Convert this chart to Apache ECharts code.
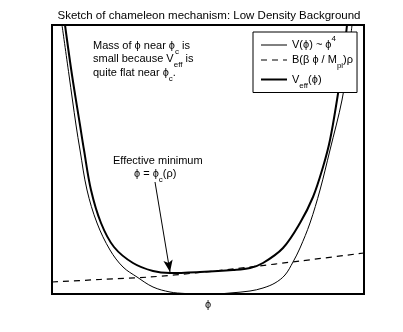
<!DOCTYPE html>
<html>
<head>
<meta charset="utf-8">
<script src="https://cdn.jsdelivr.net/npm/echarts@6/dist/echarts.min.js"></script>
<style>
  html, body { margin: 0; padding: 0; background: #fff; }
  #plot { width: 403px; height: 332px; }
</style>
</head>
<body>
<div id="plot"></div>
<script>
// Sketch values (arbitrary units)

// V(phi) ~ phi^4
const vPhi = [10, 17, 24, 28, 35, 45, 58, 71, 85, 101, 118, 133, 148, 163, 178, 198, 211, 223, 233, 241, 248, 258, 268, 278, 290, 296, 300];
const vVal = [269, 219, 169, 144, 104, 71, 44, 27, 17, 7, 2, 0.5, 0, 0, 1, 3, 6, 11, 19, 32, 46, 71, 104, 144, 194, 234, 269];

// B(beta phi / Mpl) rho
const bPhi = [0, 48, 98, 148, 198, 248, 312];
const bVal = [12, 14.5, 17, 21.5, 27, 33, 41];

// V_eff(phi)
const effPhi = [13, 20, 28, 32, 39, 49, 62, 81, 101, 118, 148, 181, 198, 211, 231, 248, 261, 271, 278, 285, 291, 295];
const effVal = [269, 219, 169, 144, 104, 71, 47, 31, 23, 21, 22, 24, 26, 31, 46, 71, 97, 127, 154, 194, 234, 269];

// arrow from label to the effective minimum
const arrowFrom = [103, 112];
const arrowTo = [118, 22];

const zip = (xs, ys) => xs.map((x, i) => [x, ys[i]]);

const FONT = "Liberation Sans, Arial, sans-serif";
const rich = {
    n: { fontSize: 11, fontFamily: FONT, color: "#000", lineHeight: 20 },
    sub: { fontSize: 8, fontFamily: FONT, color: "#000", lineHeight: 9, verticalAlign: "bottom" },
    sup: { fontSize: 8, fontFamily: FONT, color: "#000", lineHeight: 9, verticalAlign: "top" }
};

const legendText = {
    V: "{n|V(ϕ) ~ ϕ}{sup|4}",
    B: "{n|B(β ϕ / M}{sub|pl}{n|)ρ}",
    Veff: "{n|V}{sub|eff}{n|(ϕ)}"
};

function label(x, y, text) {
    return {
        type: "text", left: x, top: y, z: 10,
        style: { text: text, rich: rich, fill: "#000" }
    };
}

const chart = echarts.init(document.getElementById("plot"));

const option = {
    animation: false,
    title: {
        text: "Sketch of chameleon mechanism: Low Density Background",
        left: 204, top: 5, textAlign: "center",
        textStyle: { fontSize: 11.5, fontWeight: "normal", fontFamily: FONT, color: "#000" }
    },
    grid: {
        left: 52, top: 25, width: 312, height: 269,
        show: true, borderColor: "#000", borderWidth: 2, backgroundColor: "transparent"
    },
    legend: {
        orient: "vertical", left: 253, top: 32,
        itemWidth: 26, itemHeight: 12, itemGap: 4,
        padding: [3, 4, 3, 7],
        backgroundColor: "#fff", borderColor: "#000", borderWidth: 1,
        data: [
            { name: "V", lineStyle: { width: 1, color: "#000" } },
            { name: "B", lineStyle: { width: 1.2, color: "#000" } },
            { name: "Veff", lineStyle: { width: 2, color: "#000" } }
        ],
        itemStyle: { opacity: 0 },
        formatter: name => legendText[name],
        textStyle: { rich: rich }
    },
    xAxis: {
        type: "value", min: 0, max: 312,
        name: "ϕ", nameLocation: "middle", nameGap: 5,
        nameTextStyle: { fontSize: 11, fontFamily: FONT, color: "#000" },
        axisLine: { show: false }, axisTick: { show: false },
        axisLabel: { show: false }, splitLine: { show: false }
    },
    yAxis: {
        type: "value", min: 0, max: 269,
        axisLine: { show: false }, axisTick: { show: false },
        axisLabel: { show: false }, splitLine: { show: false }
    },
    series: [
        {
            name: "V", type: "line", data: zip(vPhi, vVal),
            smooth: 0.35, symbol: "none",
            itemStyle: { color: "#000" },
            lineStyle: { color: "#000", width: 1 }
        },
        {
            name: "B", type: "line", data: zip(bPhi, bVal),
            smooth: 0.3, symbol: "none",
            itemStyle: { color: "#000" },
            lineStyle: { color: "#000", width: 1.2, type: [6, 5] }
        },
        {
            name: "Veff", type: "line", data: zip(effPhi, effVal),
            smooth: 0.35, symbol: "none",
            itemStyle: { color: "#000" },
            lineStyle: { color: "#000", width: 2 },
            markLine: {
                silent: true, animation: false,
                symbol: ["none", "arrow"], symbolSize: [7, 12],
                lineStyle: { color: "#000", width: 1, type: "solid" },
                label: { show: false },
                data: [[{ coord: arrowFrom }, { coord: arrowTo }]]
            }
        }
    ],
    graphic: [
        label(93, 40, "{n|Mass of ϕ near ϕ}{sub|c}{n| is}"),
        label(93, 53, "{n|small because V}{sub|eff}{n| is}"),
        label(93, 67, "{n|quite flat near ϕ}{sub|c}{n|.}"),
        label(113, 155, "{n|Effective minimum}"),
        label(134, 168, "{n|ϕ = ϕ}{sub|c}{n|(ρ)}")
    ]
};

chart.setOption(option);
</script>
</body>
</html>
